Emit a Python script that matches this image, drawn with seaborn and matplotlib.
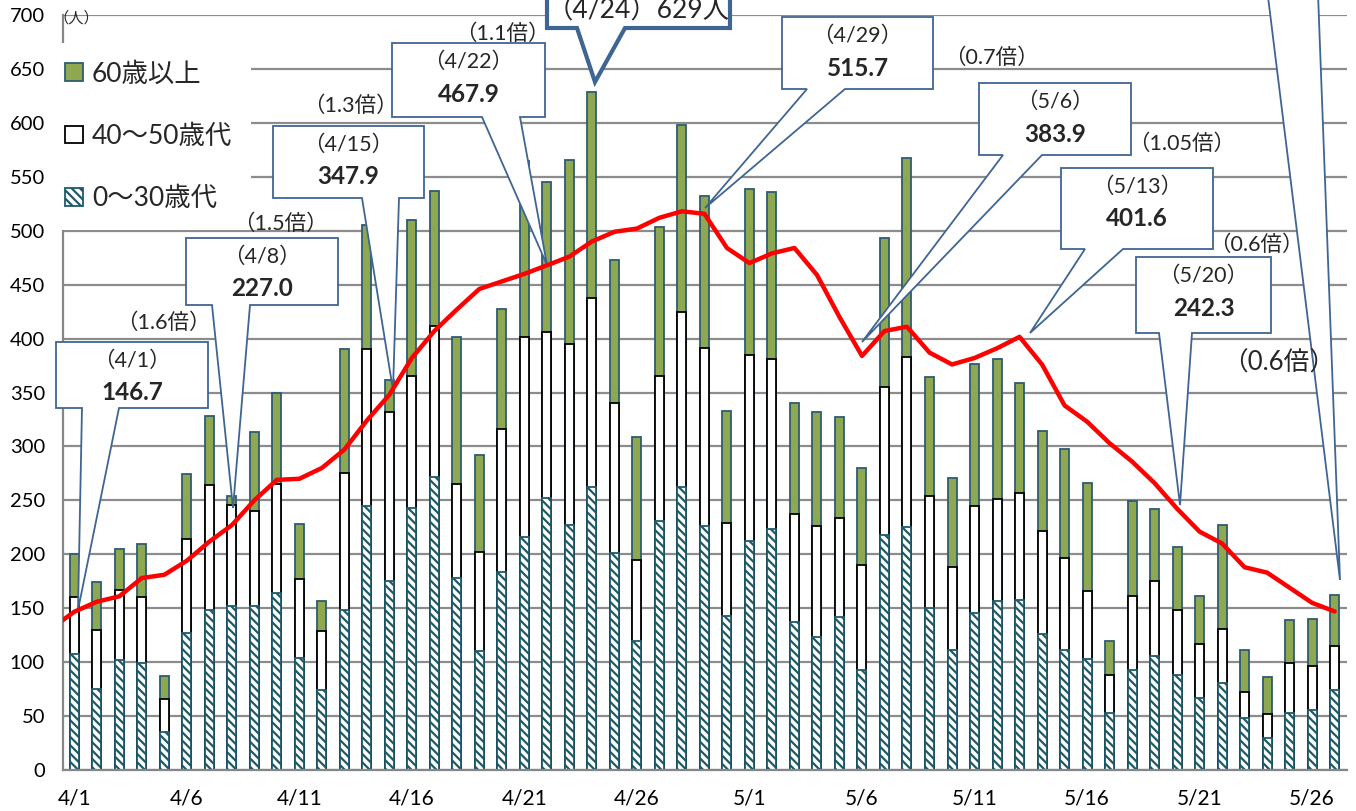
import numpy as np
import pandas as pd
import matplotlib
matplotlib.use("Agg")
import matplotlib.pyplot as plt
from matplotlib.patches import Polygon, Patch
import seaborn as sns

# ---------------- data ----------------
dates = [f"4/{d}" for d in range(1, 31)] + [f"5/{d}" for d in range(1, 28)]

young = [108, 75, 102, 99, 35, 127, 148, 152, 152, 164, 104, 74, 148, 245, 175,
         243, 272, 178, 110, 184, 216, 252, 227, 262, 201, 120, 231, 262, 226, 143,
         212, 223, 137, 123, 142, 93, 218, 225, 150, 111, 146, 157, 158, 126, 111,
         103, 53, 93, 106, 88, 67, 81, 48, 30, 53, 56, 74]
middle = [52, 55, 65, 61, 31, 87, 116, 94, 88, 101, 73, 55, 127, 145, 157,
          122, 140, 87, 92, 132, 185, 154, 168, 176, 139, 75, 134, 163, 165, 86,
          173, 158, 100, 103, 92, 97, 137, 158, 104, 77, 99, 94, 99, 96, 86,
          63, 35, 68, 69, 60, 50, 50, 24, 22, 46, 40, 41]
senior = [40, 44, 38, 50, 21, 60, 64, 8, 73, 85, 51, 28, 115, 115, 30,
          145, 125, 136, 90, 111, 164, 139, 171, 191, 133, 114, 138, 173, 141, 104,
          154, 155, 103, 106, 93, 90, 138, 184, 110, 83, 131, 130, 102, 92, 101,
          100, 32, 88, 67, 59, 44, 96, 39, 34, 40, 44, 47]
avg_prev = 131.5  # 7-day average of 3/31 (line enters from the left edge)
avg7 = [146.7, 156, 161, 178, 181, 194, 211.7, 227.0, 250, 269, 270, 280, 297, 324, 347.9,
        382, 407, 427, 446, 453, 460, 467.9, 476, 490, 499, 502, 512, 518, 515.7, 484,
        470, 479, 484, 459, 420, 383.9, 407, 411, 387, 376, 382, 391, 401.6, 376, 338,
        323, 303, 286, 266, 242.3, 221, 210, 188, 183, 169, 155, 147]

legend_labels = ["60歳以上", "40～50歳代", "0～30歳代"]
callout_texts = [("（4/1）", "146.7"), ("（4/8）", "227.0"), ("（4/15）", "347.9"),
                 ("（4/22）", "467.9"), ("（4/29）", "515.7"), ("（5/6）", "383.9"),
                 ("（5/13）", "401.6"), ("（5/20）", "242.3")]
ratio_texts = ["（1.6倍）", "（1.5倍）", "（1.3倍）", "（1.1倍）", "（0.7倍）",
               "（1.05倍）", "（0.6倍）", "（0.6倍）"]
peak_text = "（4/24）629人"

# ---------------- style ----------------
GREEN = "#8DA850"
GREEN_EDGE = "#2E5C72"
HATCH_C = "#1F5A6A"
GRID_C = "#8C8C8C"
CALLOUT_EC = "#3F6592"

sns.set_style("white")
plt.rcParams["font.family"] = ["Lato", "Noto Sans CJK JP", "DejaVu Sans"]
plt.rcParams["hatch.linewidth"] = 1.6

W, H = 1356, 811
fig = plt.figure(figsize=(W / 100, H / 100), dpi=100)
ax = fig.add_axes([63 / W, 1 - 770 / H, (1347 - 63) / W, (770 - 15) / H])

df = pd.DataFrame({"date": dates, "young": young, "middle": middle, "senior": senior})
df["mid_top"] = df["young"] + df["middle"]
df["total"] = df["mid_top"] + df["senior"]

bw = 0.4
sns.barplot(data=df, x="date", y="total", color=GREEN, edgecolor=GREEN_EDGE,
            linewidth=1.3, width=bw, saturation=1, errorbar=None, ax=ax, zorder=2)
sns.barplot(data=df, x="date", y="mid_top", color="white", edgecolor="black",
            linewidth=1.3, width=bw, saturation=1, errorbar=None, ax=ax, zorder=2)
sns.barplot(data=df, x="date", y="young", color="white", edgecolor=HATCH_C,
            hatch="\\\\\\\\", linewidth=1.3, width=bw, saturation=1, errorbar=None,
            ax=ax, zorder=2)

line_x = np.arange(-1, len(dates))
sns.lineplot(x=line_x, y=[avg_prev] + avg7, color="#FF0000", linewidth=3.2,
             sort=False, ax=ax, zorder=6)

ax.set_xlim(-0.5, len(dates) - 0.5 + 0.05)
ax.set_ylim(0, 700)
ax.set_yticks(range(0, 701, 50))
ax.set_xticks(range(0, len(dates), 5))
ax.set_xticklabels([dates[i] for i in range(0, len(dates), 5)])
ax.set_xlabel("")
ax.set_ylabel("")
ax.tick_params(axis="both", length=0, colors="black")
ax.tick_params(axis="y", pad=13, labelsize=14.5)
ax.tick_params(axis="x", pad=13, labelsize=15)
ax.set_axisbelow(True)
ax.yaxis.grid(True, color=GRID_C, linewidth=1.6)
ax.xaxis.grid(False)
for s in ["top", "right"]:
    ax.spines[s].set_visible(False)
for s in ["left", "bottom"]:
    ax.spines[s].set_color("#868686")
    ax.spines[s].set_linewidth(1.6)

# unit label
fig.text(76 / W, 1 - 18 / H, "（人）", fontsize=11, ha="center", va="center")

# ---------------- legend ----------------
handles = [Patch(facecolor=GREEN, edgecolor=GREEN_EDGE, linewidth=1.3),
           Patch(facecolor="white", edgecolor="black", linewidth=1.3),
           Patch(facecolor="white", edgecolor=HATCH_C, hatch="\\\\\\\\", linewidth=1.3)]
leg = ax.legend(handles, legend_labels,
                loc="upper left", bbox_to_anchor=(47 / W, 1 - 43 / H),
                bbox_transform=fig.transFigure, fontsize=19, frameon=True,
                handlelength=0.65, handleheight=0.65, handletextpad=0.35,
                labelspacing=1.42, borderpad=0.7, borderaxespad=0)
leg.get_frame().set_facecolor("white")
leg.get_frame().set_edgecolor("none")
leg.get_frame().set_alpha(1)
leg.set_zorder(7)


# ---------------- callouts ----------------
def P(x, y):
    return (x / W, 1 - y / H)


def callout(l, t, r, b, bl, br, tip, lw=1.3):
    pts = [(l, t), (r, t), (r, b), (br, b), tip, (bl, b), (l, b)]
    poly = Polygon([P(*p) for p in pts], closed=True, transform=fig.transFigure,
                   facecolor="white", edgecolor=CALLOUT_EC, linewidth=lw,
                   zorder=4, clip_on=False, joinstyle="miter")
    ax.add_patch(poly)


boxes = [  # left, top, right, bottom, base-left, base-right, tip
    (56, 342, 208, 408, 82, 119, (78, 610)),
    (186, 238, 338, 305, 212, 250, (233, 508)),
    (273, 126, 424, 198, 362, 399, (393, 390)),
    (392, 43, 545, 117, 482, 520, (547, 265)),
    (782, 17, 933, 89, 807, 845, (705, 208)),
    (979, 83, 1131, 155, 1003, 1042, (862, 342)),
    (1061, 168, 1213, 249, 1085, 1123, (1030, 333)),
    (1136, 257, 1271, 333, 1159, 1192, (1180, 505)),
]
for (l, t, r, b, bl, br, tip), (t1, t2) in zip(boxes, callout_texts):
    callout(l, t, r, b, bl, br, tip)
    cx = (l + r) / 2
    ax.text(*P(cx, t + 19), t1, transform=fig.transFigure, ha="center", va="center",
            fontsize=15.5, zorder=8)
    ax.text(*P(cx, t + 51), t2, transform=fig.transFigure, ha="center", va="center",
            fontsize=17.5, fontweight="bold", zorder=8)

# peak callout (4/24), partly outside the top edge
callout(547, -60, 730, 28, 577, 625, (595, 82), lw=3)
ax.text(*P(638, 18), peak_text, transform=fig.transFigure, ha="center", va="baseline",
        fontsize=19, zorder=8)

# callout pointing at 5/27 whose box lies above the picture
callout(1150, -400, 1400, -60, 1261, 1316, (1340, 580))

ratio_pos = [(163, 323, 15.5), (280, 224, 15.5), (350, 106, 15.5), (502, 34, 15.5),
             (991, 58, 15.5), (1182, 144, 15.5), (1256, 245, 15.5), (1279, 363, 18.5)]
for (x, y, fs), txt in zip(ratio_pos, ratio_texts):
    ax.text(*P(x, y), txt, transform=fig.transFigure, ha="center", va="center",
            fontsize=fs, zorder=8)

fig.savefig("out.png", dpi=100)
